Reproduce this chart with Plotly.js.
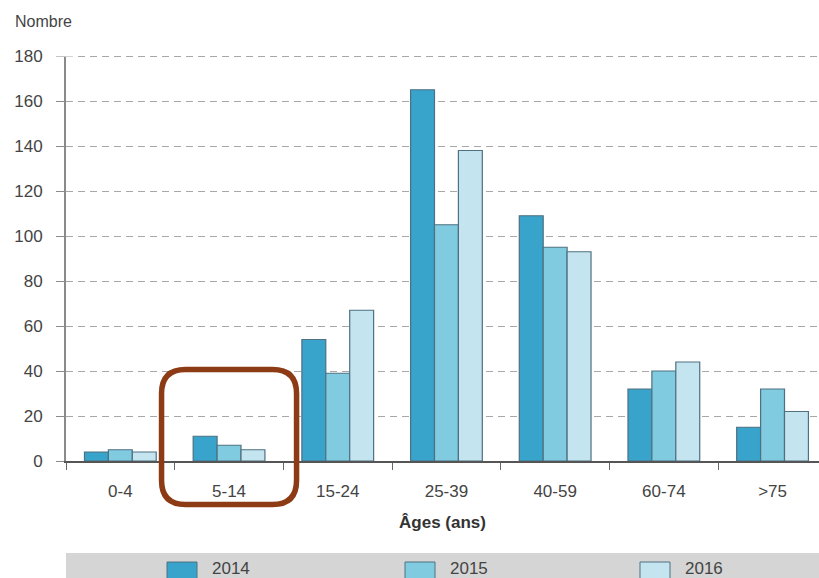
<!DOCTYPE html>
<html>
<head>
<meta charset="utf-8">
<script src="https://cdn.plot.ly/plotly-3.0.1.min.js"></script>
<style>
  html, body { margin: 0; padding: 0; background: #fff; }
  #chart { width: 819px; height: 578px; }
</style>
</head>
<body>
<div id="chart"></div>
<script>
// Age groups and yearly counts
const ageGroups = ['0-4', '5-14', '15-24', '25-39', '40-59', '60-74', '>75'];
const years = ['2014', '2015', '2016'];
const counts2014 = [4, 11, 54, 165, 109, 32, 15];
const counts2015 = [5, 7, 39, 105, 95, 40, 32];
const counts2016 = [4, 5, 67, 138, 93, 44, 22];
const yTicks = [0, 20, 40, 60, 80, 100, 120, 140, 160, 180];
const yAxisTop = 180;

const seriesValues = [counts2014, counts2015, counts2016];
const seriesColors = ['#38a3cb', '#80cbe0', '#c4e4f0'];
const highlighted = '5-14';

// Plot-area geometry in pixels; the plot box is a bit taller than the
// 0-180 scale so the top gridline is not clipped at the edge.
const W = 819, H = 578;
const M = { l: 66, r: 0, t: 46, b: 117 };
const plotW = W - M.l - M.r;
const plotH = H - M.t - M.b;
const pxPerUnit = 405 / 180;
const yMax = plotH / pxPerUnit;
const catWidth = 108.7;
const xMax = -0.5 + plotW / catWidth;

const px = x => (x - M.l) / plotW;          // pixel x -> paper x
const py = y => (H - M.b - y) / plotH;      // pixel y -> paper y
const catPx = i => M.l + (i + 0.5) * catWidth;

const traces = years.map((yr, k) => ({
  type: 'bar',
  name: yr,
  x: ageGroups,
  y: seriesValues[k],
  marker: { color: seriesColors[k], line: { color: '#4e7080', width: 1.2 } },
  showlegend: false,
  hoverinfo: 'x+y+name'
}));

// Rounded highlight frame around one age group
function roundedRect(x0, y0, x1, y1, r) {
  const P = (x, y) => px(x) + ',' + py(y);
  return 'M' + P(x0 + r, y0) +
    ' L' + P(x1 - r, y0) + ' Q' + P(x1, y0) + ' ' + P(x1, y0 + r) +
    ' L' + P(x1, y1 - r) + ' Q' + P(x1, y1) + ' ' + P(x1 - r, y1) +
    ' L' + P(x0 + r, y1) + ' Q' + P(x0, y1) + ' ' + P(x0, y1 - r) +
    ' L' + P(x0, y0 + r) + ' Q' + P(x0, y0) + ' ' + P(x0 + r, y0) + ' Z';
}
const hiIdx = ageGroups.indexOf(highlighted);
const hiCx = catPx(hiIdx);

const shapes = [
  // white cover above 180 so the y axis line stops at the top tick
  {
    type: 'rect', xref: 'paper', yref: 'paper',
    x0: px(55), x1: px(75), y0: py(M.t - 2), y1: py(56.5),
    fillcolor: '#ffffff', line: { width: 0 }, layer: 'above'
  },
  {
    type: 'path', xref: 'paper', yref: 'paper',
    path: roundedRect(hiCx - 67.5, 369.5, hiCx + 67.5, 504.5, 24),
    line: { color: '#8c3b14', width: 5.5 },
    fillcolor: 'rgba(0,0,0,0)'
  },
  // legend band
  {
    type: 'rect', xref: 'paper', yref: 'paper',
    x0: px(66), x1: px(W + 5), y0: py(553), y1: py(H + 5),
    fillcolor: '#d5d5d5', line: { width: 0 }, layer: 'below'
  }
];

const legendX = [167, 405, 640];
const annotations = [
  {
    text: 'Nombre', xref: 'paper', yref: 'paper',
    x: px(13), y: py(22), xanchor: 'left', yanchor: 'middle',
    showarrow: false, font: { family: 'Liberation Sans, Arial, sans-serif', size: 16, color: '#444' }
  }
];
years.forEach((yr, k) => {
  shapes.push({
    type: 'rect', xref: 'paper', yref: 'paper',
    x0: px(legendX[k]), x1: px(legendX[k] + 30), y0: py(562), y1: py(H + 5),
    fillcolor: seriesColors[k], line: { color: '#4e7080', width: 1 }
  });
  annotations.push({
    text: yr, xref: 'paper', yref: 'paper',
    x: px(legendX[k] + 43), y: py(568), xanchor: 'left', yanchor: 'middle',
    showarrow: false, font: { family: 'Liberation Sans, Arial, sans-serif', size: 17, color: '#444' }
  });
});

const layout = {
  width: W, height: H,
  margin: M,
  paper_bgcolor: '#ffffff',
  plot_bgcolor: '#ffffff',
  barmode: 'group',
  bargap: 0.34,
  bargroupgap: 0,
  font: { family: 'Liberation Sans, Arial, sans-serif', size: 17, color: '#444' },
  xaxis: {
    type: 'category',
    range: [-0.5, xMax],
    tickson: 'boundaries',
    ticks: 'outside', ticklen: 7, tickcolor: '#666', tickwidth: 1,
    showgrid: false,
    showline: true, linecolor: '#555', linewidth: 1.5,
    ticklabelstandoff: 14,
    tickfont: { size: 17, color: '#444' },
    title: {
      text: '<b>Âges (ans)</b>', standoff: 16,
      font: { size: 17, color: '#333' }
    },
    fixedrange: true
  },
  yaxis: {
    range: [0, yMax],
    tickvals: yTicks.filter(v => v <= yAxisTop),
    ticks: 'outside', ticklen: 8, tickcolor: '#8a8a8a', tickwidth: 1,
    showgrid: true, gridcolor: '#a8a8a8', gridwidth: 1, griddash: '7px,5px',
    zeroline: false,
    showline: true, linecolor: '#8a8a8a', linewidth: 2,
    ticklabelstandoff: 10,
    tickfont: { size: 17, color: '#444' },
    fixedrange: true
  },
  shapes: shapes,
  annotations: annotations
};

Plotly.newPlot('chart', traces, layout, { displayModeBar: false, staticPlot: true });
</script>
</body>
</html>
